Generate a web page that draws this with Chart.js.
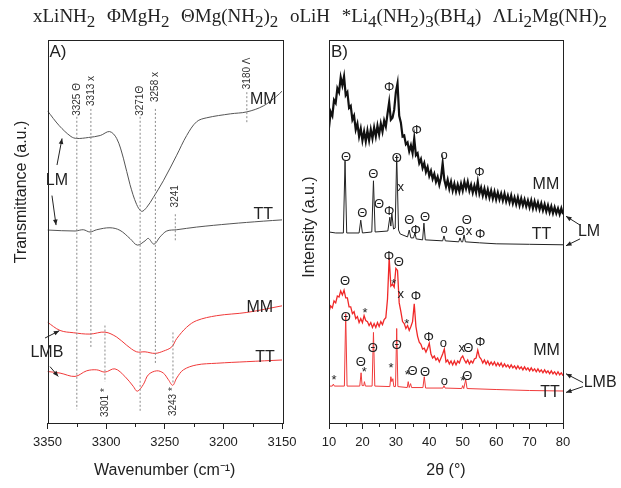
<!DOCTYPE html>
<html>
<head>
<meta charset="utf-8">
<script src="https://cdn.jsdelivr.net/npm/chart.js@4.4.0/dist/chart.umd.min.js"></script>
<style>
  body { margin: 0; background: #fff; }
  #wrap { position: relative; width: 621px; height: 488px; }
  #wrap canvas { position: absolute; left: 0; top: 0; }
</style>
</head>
<body>
<div id="wrap">
  <canvas id="chartA" width="621" height="488"></canvas>
  <canvas id="chartB" width="621" height="488"></canvas>
</div>
<script>
// ---- A) FTIR, wavenumber (cm-1) vs transmittance (a.u.)
const lmMmWn = [3350, 3340, 3330, 3325, 3315, 3305, 3297, 3291, 3285.3, 3279.6, 3274, 3269.7, 3265.4, 3259.8, 3251.2, 3239.8, 3231.3, 3222.8, 3214.2, 3194, 3180, 3166, 3154.5, 3150];
const lmMmT = [317, 302, 291, 289, 290, 292, 296, 289, 269, 242, 222, 215, 219, 229, 246, 272, 292, 306, 310, 314, 316, 322, 332, 337];
const lmTtWn = [3350, 3326.5, 3319.5, 3313.8, 3308, 3296.7, 3288.2, 3279.6, 3273.4, 3266.8, 3264, 3259.2, 3254, 3248.3, 3239.8, 3222.8, 3194.4, 3166, 3150];
const lmTtT = [196, 195, 196.3, 194, 196.3, 198.3, 195.7, 187.3, 180.7, 185, 187.5, 181.7, 189, 195, 196.3, 199, 202.3, 205, 206.3];
const lmbMmWn = [3350, 3339.3, 3328, 3313.8, 3301, 3291, 3282.5, 3274, 3266.8, 3258.3, 3251.2, 3244, 3239.8, 3231.3, 3222.8, 3205.7, 3180, 3150];
const lmbMmT = [102.3, 94, 91.7, 90.3, 92.3, 87.3, 79, 72.3, 72.3, 70.7, 73, 77.3, 85.7, 97.3, 104, 109, 112.3, 119];
const lmbTtWn = [3350, 3339.3, 3326.5, 3316.6, 3308, 3301, 3292.5, 3284, 3276.9, 3273.4, 3268.3, 3264, 3256.9, 3251.2, 3246.9, 3243.2, 3239.8, 3234.1, 3222.8, 3205.7, 3180, 3150];
const lmbTtT = [52.3, 50.7, 47.3, 53, 54, 51.7, 55, 47.3, 37.3, 32.3, 39, 49, 53, 50.7, 44, 38.3, 45.7, 54, 59, 60.7, 62.3, 64];

// band positions marked with dotted lines
const bandWn = [3325, 3313, 3271, 3258, 3180, 3241, 3301, 3243];
const bandTop = [311, 319, 311, 319, 336, 212, 99, 92];
const bandBottom = [14, 77, 12, 59, 304, 184, 42, 39];
const bandText = ["3325 Θ", "3313 x", "3271Θ", "3258 x", "3180 Λ", "3241", "3301 *", "3243 *"];
const bandTextAt = [312, 322, 312, 326, 339, 219, 6, 7];

// ---- B) XRD, 2theta vs intensity (a.u.)
const twoTheta = [10, 10.5, 11, 11.5, 12, 12.5, 13, 13.5, 14, 14.5, 15, 15.5, 16, 16.5, 17, 17.5, 18, 18.5, 19, 19.5,
  20, 20.5, 21, 21.5, 22, 22.5, 23, 23.5, 24, 24.5, 25, 25.5, 26, 26.5, 27, 27.5, 28, 28.5, 29, 29.5,
  30, 30.5, 31, 31.5, 32, 32.5, 33, 33.5, 34, 34.5, 35, 35.5, 36, 36.5, 37, 37.5, 38, 38.5, 39, 39.5,
  40, 40.5, 41, 41.5, 42, 42.5, 43, 43.5, 44, 44.5, 45, 45.5, 46, 46.5, 47, 47.5, 48, 48.5, 49, 49.5,
  50, 50.5, 51, 51.5, 52, 52.5, 53, 53.5, 54, 54.5, 55, 55.5, 56, 56.5, 57, 57.5, 58, 58.5, 59, 59.5,
  60, 60.5, 61, 61.5, 62, 62.5, 63, 63.5, 64, 64.5, 65, 65.5, 66, 66.5, 67, 67.5, 68, 68.5, 69, 69.5,
  70, 70.5, 71, 71.5, 72, 72.5, 73, 73.5, 74, 74.5, 75, 75.5, 76, 76.5, 77, 77.5, 78, 78.5, 79, 79.5, 80];
const xrdLmMm = [300, 316, 312, 328, 325, 340, 336, 351, 343, 352, 333, 336, 320, 322, 308, 312, 298, 304, 291, 299,
  287, 296, 286, 297, 287, 298, 289, 300, 291, 302, 293, 304, 296, 307, 301, 314, 326, 308, 310, 318,
  336, 345, 312, 305, 291, 292, 283, 285, 276, 282, 274, 289, 272, 274, 264, 268, 259, 264, 255, 260,
  251, 256, 248, 253, 245, 250, 242, 249, 264, 247, 240, 247, 238, 245, 236, 243, 235, 242, 235, 243,
  236, 245, 238, 245, 236, 242, 234, 241, 234, 245, 233, 239, 231, 238, 230, 237, 229, 236, 228, 235,
  227, 234, 227, 233, 226, 233, 225, 231, 224, 231, 223, 229, 222, 229, 221, 228, 221, 227, 220, 226,
  219, 226, 218, 225, 218, 224, 217, 223, 216, 222, 215, 221, 214, 220, 213, 219, 213, 218, 212, 218, 212];
const xrdLmbMm = [113, 119, 117, 124, 122, 129, 128, 134, 130, 135, 127, 127, 118, 118, 111, 113, 106, 108, 102, 106,
  102, 109, 104, 103, 99, 102, 97, 101, 97, 102, 98, 103, 100, 105, 107, 126, 168, 139, 141, 138,
  157, 155, 122, 113, 103, 101, 96, 99, 94, 98, 103, 121, 98, 88, 82, 80, 75, 76, 72, 76,
  81, 70, 66, 68, 64, 66, 62, 66, 70, 75, 62, 64, 60, 63, 59, 63, 59, 63, 61, 66,
  68, 64, 61, 64, 60, 63, 61, 65, 66, 74, 67, 65, 61, 64, 60, 63, 59, 62, 59, 62,
  58, 61, 58, 61, 57, 60, 57, 59, 56, 59, 56, 58, 55, 58, 55, 57, 54, 57, 54, 56,
  53, 56, 53, 55, 52, 55, 52, 54, 51, 54, 51, 53, 50, 53, 50, 52, 49, 52, 49, 51, 48];
const xrdLmTtX = [10, 12, 14.3, 14.8, 15.3, 19, 19.5, 20, 22.8, 23.3, 23.8, 27.6, 28.2, 28.5, 28.8, 29.3, 29.8, 30.25, 30.8, 31.3,
  33.5, 34, 34.5, 35.3, 35.7, 36.1, 38, 38.4, 38.8, 44, 44.4, 44.8, 48.8, 49.2, 49.6, 50, 50.4, 50.8, 55, 60, 70, 80];
const xrdLmTtY = [194, 193, 193, 266, 193, 193, 206, 193, 194, 246, 194, 195, 209, 200, 213, 197, 198, 272, 196, 192,
  189, 196, 188, 188, 193, 187, 186, 203, 186, 185, 190, 185, 184, 188, 184, 184, 191, 184, 183, 182, 181.5, 181];
const xrdLmbTtX = [10, 11, 11.3, 11.6, 14.6, 15, 15.4, 19.2, 19.6, 19.9, 20.4, 20.6, 20.9, 22.9, 23.3, 23.7, 28.2, 28.5, 28.8, 29.1,
  29.4, 29.9, 30.25, 30.6, 33.4, 33.7, 34, 34.4, 34.7, 38.1, 38.5, 38.9, 44.1, 44.4, 44.7, 49.7, 50, 50.3, 50.9, 51.3, 60, 70, 80];
const xrdLmbTtY = [37.5, 37.5, 39.5, 37.5, 37.5, 111, 37.5, 37.5, 51, 38, 38, 42, 37.5, 37.5, 92, 37.5, 37, 47, 42, 45,
  37, 37, 96, 37, 36, 42, 36, 40, 36, 36, 47, 35.5, 35.5, 38, 35.5, 35, 38, 35, 44, 35, 34, 33, 32.5];

// phase symbols over the peaks
const peakSym = ["Φ", "Φ", "o", "Φ",
  "Θ", "Θ", "Θ", "Θ", "Φ", "Θ", "x", "Θ", "Φ", "Θ", "o", "Θ", "Θ", "x", "Φ",
  "Θ", "Φ", "Θ", "*", "x", "Φ", "*", "*", "Φ", "o", "x", "Θ", "Φ",
  "Θ", "Θ", "*", "Θ", "*", "*", "Θ", "*", "Θ", "Θ", "o", "*", "Θ"];
const peakX = [28, 36.2, 44.4, 55,
  15.1, 20, 23.25, 25, 28, 30.25, 31.5, 34, 35.9, 38.7, 44.4, 49.2, 51.2, 51.9, 55.2,
  14.8, 27.95, 30.9, 29.4, 31.45, 36, 20.8, 33.25, 39.8, 44.2, 49.7, 51.7, 55.2,
  15, 19.5, 20.55, 23.1, 11.5, 28.55, 30.25, 33.4, 35, 38.7, 44.5, 50, 51.4];
const peakY = [341, 297, 272, 254,
  270, 213, 252, 222, 215, 269, 239, 206, 196, 209, 197, 195, 206, 195, 192,
  144, 169, 163, 141, 131, 129, 111, 100, 87, 81, 76, 76, 82,
  107, 62, 51, 76, 43, 55, 79, 48, 52, 51, 42, 42, 47];

// phase key on top; [text, subscript] pieces per phase
const phaseKey = [
  [["xLiNH", 0], ["2", 1]],
  [["ΦMgH", 0], ["2", 1]],
  [["ΘMg(NH", 0], ["2", 1], [")", 0], ["2", 1]],
  [["oLiH", 0]],
  [["*Li", 0], ["4", 1], ["(NH", 0], ["2", 1], [")", 0], ["3", 1], ["(BH", 0], ["4", 1], [")", 0]],
  [["ΛLi", 0], ["2", 1], ["Mg(NH)", 0], ["2", 1]]
];

function pts(xs, ys) {
  return xs.map((v, i) => ({ x: v, y: ys[i] }));
}

function drawKey(ctx, key, x0, x1, base) {
  const main = '19px "Liberation Serif", "Times New Roman", serif';
  const sub = '17px "Liberation Serif", "Times New Roman", serif';
  const widths = key.map(item => item.reduce((w, p) => {
    ctx.font = p[1] ? sub : main;
    return w + ctx.measureText(p[0]).width;
  }, 0));
  const gap = (x1 - x0 - widths.reduce((a, b) => a + b, 0)) / (key.length - 1);
  let x = x0;
  ctx.fillStyle = '#222';
  ctx.textAlign = 'left';
  ctx.textBaseline = 'alphabetic';
  key.forEach(item => {
    item.forEach(p => {
      ctx.font = p[1] ? sub : main;
      ctx.fillText(p[0], x, p[1] ? base + 5 : base);
      x += ctx.measureText(p[0]).width;
    });
    x += gap;
  });
}

const frame = {
  id: 'frame',
  afterDatasetsDraw(chart, args, o) {
    const { ctx, chartArea: a, scales: { x, y } } = chart;
    ctx.save();
    ctx.strokeStyle = '#222';
    ctx.lineWidth = 1;
    ctx.strokeRect(Math.round(a.left) + 0.5, Math.round(a.top) + 0.5, Math.round(a.right - a.left), Math.round(a.bottom - a.top));
    // minor ticks
    o.minor.forEach(v => {
      const px = Math.round(x.getPixelForValue(v)) + 0.5;
      ctx.beginPath();
      ctx.moveTo(px, a.bottom);
      ctx.lineTo(px, a.bottom + 4);
      ctx.stroke();
    });
    // y title
    ctx.fillStyle = '#222';
    ctx.font = '16px "Liberation Sans", Arial, sans-serif';
    ctx.textAlign = 'center';
    ctx.textBaseline = 'middle';
    ctx.save();
    ctx.translate(o.yTitle.x, o.yTitle.y);
    ctx.rotate(-Math.PI / 2);
    ctx.fillText(o.yTitle.text, 0, 0);
    ctx.restore();
    // texts
    o.texts.forEach(t => {
      const px = x.getPixelForValue(t.x), py = y.getPixelForValue(t.y);
      ctx.font = t.font;
      ctx.fillStyle = t.color || '#222';
      if (t.rot) {
        ctx.save();
        ctx.translate(px, py);
        ctx.rotate(-Math.PI / 2);
        ctx.textAlign = 'left';
        ctx.fillText(t.text, 0, 0);
        ctx.restore();
      } else {
        ctx.textAlign = t.align || 'center';
        ctx.fillText(t.text, px, py);
      }
    });
    // arrows
    o.arrows.forEach(r => {
      const x1 = x.getPixelForValue(r[0]), y1 = y.getPixelForValue(r[1]);
      const x2 = x.getPixelForValue(r[2]), y2 = y.getPixelForValue(r[3]);
      const ang = Math.atan2(y2 - y1, x2 - x1);
      ctx.strokeStyle = '#222';
      ctx.beginPath();
      ctx.moveTo(x1, y1);
      ctx.lineTo(x2, y2);
      ctx.stroke();
      ctx.beginPath();
      ctx.moveTo(x2, y2);
      ctx.lineTo(x2 - 6 * Math.cos(ang - 0.4), y2 - 6 * Math.sin(ang - 0.4));
      ctx.lineTo(x2 - 6 * Math.cos(ang + 0.4), y2 - 6 * Math.sin(ang + 0.4));
      ctx.closePath();
      ctx.fillStyle = '#222';
      ctx.fill();
    });
    ctx.font = '17px "Liberation Sans", Arial, sans-serif';
    ctx.textAlign = 'left';
    ctx.fillText(o.panel, a.left + 2, a.top + 12);
    if (o.key) drawKey(ctx, o.key, 33, 607, 22);
    ctx.restore();
  }
};

const big = '16px "Liberation Sans", Arial, sans-serif';
const small = '10px "Liberation Sans", Arial, sans-serif';
const sym = '13px "Liberation Sans", Arial, sans-serif';

function xAxis(min, max, step, reverse, title) {
  return {
    type: 'linear', min: min, max: max, reverse: reverse,
    grid: { drawOnChartArea: false, tickLength: 6, color: '#222' },
    border: { display: false },
    ticks: { stepSize: step, autoSkip: false, maxRotation: 0, color: '#222', padding: 6,
      callback: v => String(v),
      font: { family: '"Liberation Sans", Arial, sans-serif', size: 13 } },
    title: { display: true, text: title, color: '#222', padding: { top: 4, bottom: 4 },
      font: { family: '"Liberation Sans", Arial, sans-serif', size: 16 } }
  };
}

function line(data, color, width) {
  return { data: data, borderColor: color, borderWidth: width, pointRadius: 0, tension: 0.35, fill: false };
}

// ---- panel A
const bandSets = bandWn.map((w, i) => ({
  data: [{ x: w, y: bandTop[i] }, { x: w, y: bandBottom[i] }],
  borderColor: '#8a8a8a', borderWidth: 1, borderDash: [2, 2], pointRadius: 0
}));
const textsA = bandWn.map((w, i) => ({ x: w, y: bandTextAt[i], text: bandText[i], font: small, rot: true, color: '#333' }));
textsA.push(
  { x: 3166, y: 328, text: 'MM', font: big },
  { x: 3166, y: 212, text: 'TT', font: big },
  { x: 3169, y: 117, text: 'MM', font: big },
  { x: 3164.5, y: 66, text: 'TT', font: big },
  { x: 3342, y: 246, text: 'LM', font: big },
  { x: 3350.5, y: 72, text: 'LMB', font: big }
);

new Chart(document.getElementById('chartA'), {
  type: 'line',
  data: {
    datasets: bandSets.concat([
      line(pts(lmMmWn, lmMmT), '#555', 1),
      line(pts(lmTtWn, lmTtT), '#555', 1),
      line(pts(lmbMmWn, lmbMmT), '#f03a3a', 1),
      line(pts(lmbTtWn, lmbTtT), '#f03a3a', 1)
    ])
  },
  options: {
    responsive: false, animation: false,
    layout: { padding: { left: 47.5, right: 339, top: 40, bottom: 4.2 } },
    scales: {
      x: xAxis(3150, 3350, 50, true, 'Wavenumber (cm⁻¹)'),
      y: { display: false, min: 0, max: 389 }
    },
    plugins: {
      legend: { display: false }, tooltip: { enabled: false },
      frame: {
        minor: [3325, 3275, 3225, 3175],
        yTitle: { text: 'Transmittance (a.u.)', x: 22, y: 192 },
        texts: textsA,
        arrows: [[3341.9, 262, 3337.6, 289], [3346.2, 231, 3342.7, 201],
          [3352.1, 86.3, 3339.9, 93.7], [3347.9, 57.3, 3340.8, 47.3]],
        panel: 'A)',
        key: phaseKey
      }
    }
  },
  plugins: [frame]
});

// ---- panel B
const textsB = peakSym.map((s, i) => ({ x: peakX[i], y: peakY[i], text: s, font: sym }));
textsB.push(
  { x: 74.9, y: 242, text: 'MM', font: big },
  { x: 73.6, y: 191, text: 'TT', font: big },
  { x: 87.8, y: 194, text: 'LM', font: big },
  { x: 75.1, y: 74, text: 'MM', font: big },
  { x: 76.1, y: 31, text: 'TT', font: big },
  { x: 91.1, y: 41, text: 'LMB', font: big }
);

new Chart(document.getElementById('chartB'), {
  type: 'line',
  data: {
    datasets: [
      line(pts(twoTheta, xrdLmMm), '#111', 2.2),
      line(pts(xrdLmTtX, xrdLmTtY), '#222', 1),
      line(pts(twoTheta, xrdLmbMm), '#f02828', 1.3),
      line(pts(xrdLmbTtX, xrdLmbTtY), '#f03a3a', 1)
    ].map(d => Object.assign(d, { tension: 0 }))
  },
  options: {
    responsive: false, animation: false,
    layout: { padding: { left: 329, right: 58, top: 40, bottom: 4.2 } },
    scales: {
      x: xAxis(10, 80, 10, false, '2θ (°)'),
      y: { display: false, min: 0, max: 389 }
    },
    plugins: {
      legend: { display: false }, tooltip: { enabled: false },
      frame: {
        minor: [15, 25, 35, 45, 55, 65, 75],
        yTitle: { text: 'Intensity (a.u.)', x: 310, y: 227 },
        texts: textsB,
        arrows: [[85.1, 201, 80.9, 210], [85.1, 187, 80.9, 180],
          [86, 41, 80.9, 50], [86, 37, 80.9, 31]],
        panel: 'B)'
      }
    }
  },
  plugins: [frame]
});
</script>
</body>
</html>
